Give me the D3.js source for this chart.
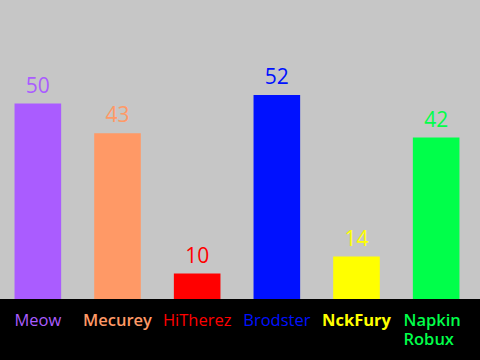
<!DOCTYPE html>
<html>
<head>
<meta charset="utf-8">
<script src="https://cdn.jsdelivr.net/npm/d3@7"></script>
<style>
  body { margin: 0; background: #c6c6c6; }
  text { font-family: "Open Sans", "Noto Sans", sans-serif; }
</style>
</head>
<body>
<div id="chart"></div>
<script>
const names = ['Meow', 'Mecurey', 'HiTherez', 'Brodster', 'NckFury', 'Napkin Robux'];
const scores = [50, 43, 10, 52, 14, 42];

const colors = ['#aa5cff', '#ff9966', '#ff0000', '#0011ff', '#ffff00', '#00ff4a'];
const weights = [400, 600, 400, 400, 700, 600];

const width = 480, height = 360;
const baseY = 299;

const svg = d3.select('#chart').append('svg')
    .attr('width', width)
    .attr('height', height);

svg.append('rect')
    .attr('width', width).attr('height', height)
    .attr('fill', '#c6c6c6');

const x = d3.scaleBand()
    .domain(names)
    .range([-2, 476])
    .paddingInner(0.415)
    .paddingOuter(0.2075);

// bottom of the bars does not sit on zero in the original
const y = d3.scaleLinear()
    .domain([4, 52])
    .range([baseY, 95]);

svg.selectAll('rect.bar')
    .data(names)
    .enter().append('rect')
    .attr('class', 'bar')
    .attr('x', d => x(d))
    .attr('width', x.bandwidth())
    .attr('y', (d, i) => y(scores[i]))
    .attr('height', (d, i) => baseY - y(scores[i]))
    .attr('fill', (d, i) => colors[i]);

svg.selectAll('text.val')
    .data(names)
    .enter().append('text')
    .attr('class', 'val')
    .attr('x', d => x(d) + x.bandwidth() / 2)
    .attr('y', (d, i) => y(scores[i]) - 11)
    .attr('text-anchor', 'middle')
    .style('font-size', '21px')
    .attr('fill', (d, i) => colors[i])
    .text((d, i) => scores[i]);

// black band under the bars
svg.append('rect')
    .attr('y', baseY)
    .attr('width', width)
    .attr('height', height - baseY)
    .attr('fill', '#000');

const label = svg.selectAll('text.name')
    .data(names)
    .enter().append('text')
    .attr('class', 'name')
    .attr('y', 326)
    .style('font-size', '16.5px')
    .style('font-weight', (d, i) => weights[i])
    .attr('fill', (d, i) => colors[i]);

label.each(function (d) {
    const t = d3.select(this);
    const cx = x(d) + x.bandwidth() / 2;
    t.attr('x', cx).attr('text-anchor', 'middle').text(d);
    if (this.getComputedTextLength() > 75) {
        // wrap long names, lines left aligned
        t.text(null);
        const words = d.split(' ');
        const spans = words.map((w, k) => t.append('tspan')
            .attr('dy', k ? 19 : 0)
            .text(w));
        const maxW = d3.max(spans, s => s.node().getComputedTextLength());
        t.attr('text-anchor', 'start');
        spans.forEach(s => s.attr('x', cx - maxW / 2 - 4));
    }
});
</script>
</body>
</html>
